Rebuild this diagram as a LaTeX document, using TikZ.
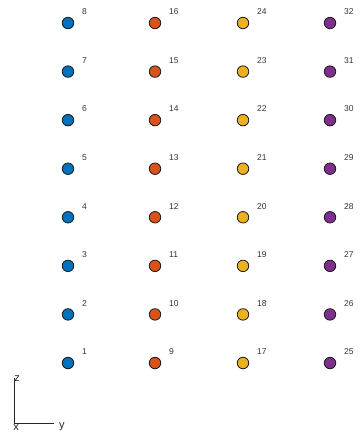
\documentclass[tikz,border=0pt]{standalone}
\usepackage{fontspec}
\setmainfont{Liberation Sans}
\definecolor{c1}{RGB}{0,114,189}
\definecolor{c2}{RGB}{217,83,25}
\definecolor{c3}{RGB}{237,177,32}
\definecolor{c4}{RGB}{126,47,142}
\tikzset{
  pt/.style={circle,draw=black!90,line width=0.8pt,minimum size=11.5pt,inner sep=0pt},
  lab/.style={anchor=south west,inner sep=0pt,font=\fontsize{8.5}{9}\selectfont,text=black!80},
  axlab/.style={inner sep=0pt,font=\fontsize{11}{12}\selectfont,text=black!85}
}
\begin{document}
\begin{tikzpicture}[x=1pt,y=-1pt]
\useasboundingbox (0,0) rectangle (360,434);
\foreach \c/\cx/\col in {0/68/c1,1/155/c2,2/243/c3,3/330/c4}{
  \foreach \r in {1,...,8}{
    \pgfmathtruncatemacro{\n}{\c*8+\r}
    \pgfmathsetmacro{\cy}{363-(\r-1)*48.57}
    \node[pt,fill=\col] (p\n) at (\cx,\cy) {};
    \node[lab] (l\n) at (\cx+14,\cy-8) {\n};
  }
}
\coordinate (o) at (14,423);
\coordinate (zt) at (14,378);
\coordinate (ye) at (54,423);
\draw[line width=0.8pt,black!85] (zt) -- (o) -- (ye);
\node[axlab,anchor=south] (zl) at (17,382) {z};
\node[axlab,anchor=west] (yl) at (59,427) {y};
\node[axlab] (xl) at (16,428) {x};
\end{tikzpicture}
\end{document}
